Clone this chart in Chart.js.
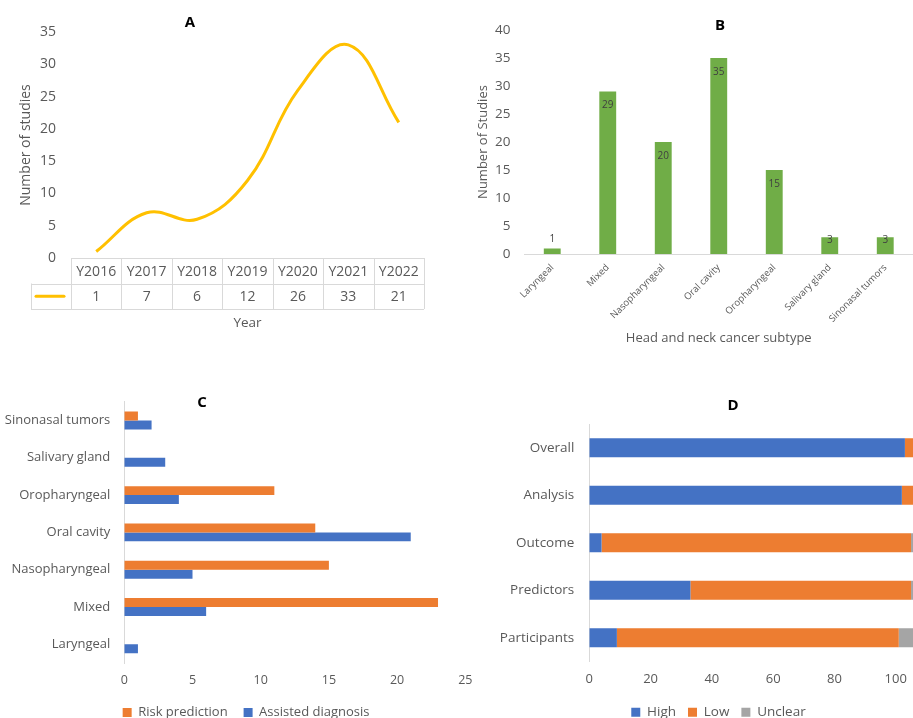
<!DOCTYPE html>
<html>
<head>
<meta charset="utf-8">
<script src="https://cdn.jsdelivr.net/npm/chart.js@4.4.0/dist/chart.umd.min.js"></script>
<style>
  html, body { margin: 0; padding: 0; background: #fff; }
  body { width: 913px; height: 718px; overflow: hidden; position: relative; }
  canvas { position: absolute; }
  .letter { position: absolute; font: bold 15px "Open Sans", sans-serif; color: #000; transform: translate(-50%, -50%); }
</style>
</head>
<body>
<canvas id="chartA" width="440" height="345" style="left:0;top:0"></canvas>
<canvas id="chartB" width="443" height="350" style="left:470px;top:0"></canvas>
<canvas id="chartC" width="492" height="349" style="left:0;top:380px"></canvas>
<canvas id="chartD" width="477" height="349" style="left:480px;top:380px"></canvas>
<div class="letter" style="left:190px;top:21px">A</div>
<div class="letter" style="left:720px;top:24px">B</div>
<div class="letter" style="left:202px;top:401px">C</div>
<div class="letter" style="left:733px;top:404px">D</div>
<script>
// A: studies published per year
const years = ['Y2016', 'Y2017', 'Y2018', 'Y2019', 'Y2020', 'Y2021', 'Y2022'];
const studiesPerYear = [1, 7, 6, 12, 26, 33, 21];

// B: studies per head and neck cancer subtype
const subtypes = ['Laryngeal', 'Mixed', 'Nasopharyngeal', 'Oral cavity', 'Oropharyngeal', 'Salivary gland', 'Sinonasal tumors'];
const studiesPerSubtype = [1, 29, 20, 35, 15, 3, 3];

// C: purpose of the model per subtype
const riskPrediction = [0, 23, 15, 14, 11, 0, 1];
const assistedDiagnosis = [1, 6, 5, 21, 4, 3, 2];

// D: risk of bias by domain
const domains = ['Overall', 'Analysis', 'Outcome', 'Predictors', 'Participants'];
const biasHigh = [103, 102, 4, 33, 9];
const biasLow = [3, 4, 101, 72, 92];
const biasUnclear = [0, 0, 1, 1, 5];

Chart.defaults.font.family = '"Open Sans", sans-serif';
Chart.defaults.color = '#595959';
Chart.defaults.animation = false;
Chart.defaults.responsive = false;
Chart.defaults.plugins.tooltip.enabled = false;

const TEXT = '#595959';
const RULE = '#D9D9D9';
const fixWidth = w => scale => { scale.width = w; };
const fixHeight = h => scale => { scale.height = h; };
const noGrid = { display: false, drawTicks: false };

// Data table under the line chart: year header row plus a value row with a series key
const dataTable = {
  id: 'dataTable',
  afterDraw(chart) {
    const { ctx, chartArea: a, scales: { x } } = chart;
    const ds = chart.data.datasets[0];
    const labels = chart.data.labels;
    const n = labels.length;
    const col = (a.right - a.left) / n;
    const row = 25.5;
    const top = a.bottom;
    const keyLeft = 31;
    ctx.save();
    ctx.strokeStyle = RULE;
    ctx.lineWidth = 1;
    ctx.beginPath();
    ctx.moveTo(a.left, top + 0.5); ctx.lineTo(a.right, top + 0.5);
    ctx.moveTo(keyLeft, Math.round(top + row) + 0.5); ctx.lineTo(a.right, Math.round(top + row) + 0.5);
    ctx.moveTo(keyLeft, Math.round(top + 2 * row) + 0.5); ctx.lineTo(a.right, Math.round(top + 2 * row) + 0.5);
    for (let i = 0; i <= n; i++) {
      const vx = Math.round(a.left + i * col) + 0.5;
      ctx.moveTo(vx, top); ctx.lineTo(vx, top + 2 * row);
    }
    ctx.moveTo(keyLeft + 0.5, top + row); ctx.lineTo(keyLeft + 0.5, top + 2 * row);
    ctx.stroke();

    ctx.strokeStyle = ds.borderColor;
    ctx.lineWidth = 3;
    ctx.lineCap = 'round';
    ctx.beginPath();
    ctx.moveTo(keyLeft + 5, top + 1.5 * row);
    ctx.lineTo(a.left - 7, top + 1.5 * row);
    ctx.stroke();

    ctx.fillStyle = TEXT;
    ctx.font = '14px "Open Sans", sans-serif';
    ctx.textAlign = 'center';
    ctx.textBaseline = 'middle';
    labels.forEach((lab, i) => {
      const cx = x.getPixelForValue(i);
      ctx.fillText(lab, cx, top + row / 2 + 1);
      ctx.fillText(String(ds.data[i]), cx, top + 1.5 * row + 1);
    });
    ctx.restore();
  }
};

// Value labels near the top of each column
const columnValues = {
  id: 'columnValues',
  afterDatasetsDraw(chart) {
    const { ctx } = chart;
    const values = chart.data.datasets[0].data;
    ctx.save();
    ctx.font = '10px "Open Sans", sans-serif';
    ctx.fillStyle = '#404040';
    ctx.textAlign = 'center';
    ctx.textBaseline = 'middle';
    chart.getDatasetMeta(0).data.forEach((bar, i) => {
      const h = bar.base - bar.y;
      const y = h >= 28 ? bar.y + 14 : (h >= 10 ? bar.y + 3 : bar.y - 9);
      ctx.fillText(String(values[i]), bar.x, y);
    });
    ctx.restore();
  }
};

// Nudge the legend sideways so it centres under the whole panel rather than the plot
const legendShift = {
  id: 'legendShift',
  afterLayout(chart, args, opts) {
    const lg = chart.legend;
    if (lg && opts.dx) { lg.left += opts.dx; lg.right += opts.dx; }
  }
};

// A
new Chart(document.getElementById('chartA'), {
  type: 'line',
  data: {
    labels: years,
    datasets: [{ data: studiesPerYear, borderColor: '#FFC000', borderWidth: 3, tension: 0.4, pointRadius: 0, fill: false }]
  },
  options: {
    layout: { padding: { top: 32, right: 16, left: 0, bottom: 0 } },
    plugins: { legend: { display: false } },
    scales: {
      x: {
        offset: true, grid: noGrid, border: { display: false }, ticks: { display: false },
        title: { display: true, text: 'Year', font: { size: 13.5 }, padding: { top: 0, bottom: 14 } },
        afterFit: fixHeight(87)
      },
      y: {
        min: 0, max: 35, grid: noGrid, border: { display: false },
        ticks: { stepSize: 5, padding: 15, font: { size: 14 } },
        title: { display: true, text: 'Number of studies', font: { size: 14 }, padding: { top: 18, bottom: 0 } },
        afterFit: fixWidth(71)
      }
    }
  },
  plugins: [dataTable]
});

// B
new Chart(document.getElementById('chartB'), {
  type: 'bar',
  data: {
    labels: subtypes,
    datasets: [{ data: studiesPerSubtype, backgroundColor: '#70AD47', categoryPercentage: 0.8, barPercentage: 0.38 }]
  },
  options: {
    layout: { padding: { top: 30, right: 0, left: 0, bottom: 0 } },
    plugins: { legend: { display: false } },
    scales: {
      x: {
        grid: noGrid, border: { display: true, color: RULE },
        ticks: { minRotation: 45, maxRotation: 45, autoSkip: false, padding: 8, font: { size: 9.5 } },
        title: { display: true, text: 'Head and neck cancer subtype', font: { size: 13 }, padding: { top: 0, bottom: 4 } },
        afterFit: fixHeight(96)
      },
      y: {
        min: 0, max: 40, grid: noGrid, border: { display: false },
        ticks: { stepSize: 5, padding: 14, font: { size: 13.5 } },
        title: { display: true, text: 'Number of Studies', font: { size: 13 }, padding: { top: 5, bottom: 0 } },
        afterFit: fixWidth(54.5)
      }
    }
  },
  plugins: [columnValues]
});

// C
new Chart(document.getElementById('chartC'), {
  type: 'bar',
  data: {
    labels: subtypes,
    datasets: [
      { label: 'Risk prediction', data: riskPrediction, backgroundColor: '#ED7D31' },
      { label: 'Assisted diagnosis', data: assistedDiagnosis, backgroundColor: '#4472C4' }
    ]
  },
  options: {
    indexAxis: 'y',
    datasets: { bar: { categoryPercentage: 0.48, barPercentage: 1 } },
    layout: { padding: { top: 21, right: 26.7, left: 0, bottom: 0 } },
    plugins: {
      legend: { position: 'bottom', labels: { boxWidth: 9, boxHeight: 9, padding: 16, font: { size: 13 } } },
      legendShift: { dx: 13.4 }
    },
    scales: {
      x: {
        min: 0, max: 25, grid: noGrid, border: { display: false },
        ticks: { stepSize: 5, padding: 10, font: { size: 12.5 } },
        afterFit: fixHeight(27)
      },
      y: {
        reverse: true, grid: noGrid, border: { display: true, color: RULE },
        ticks: { padding: 14, font: { size: 13 } },
        afterFit: fixWidth(124.3)
      }
    }
  },
  plugins: [legendShift]
});

// D
new Chart(document.getElementById('chartD'), {
  type: 'bar',
  data: {
    labels: domains,
    datasets: [
      { label: 'High', data: biasHigh, backgroundColor: '#4472C4' },
      { label: 'Low', data: biasLow, backgroundColor: '#ED7D31' },
      { label: 'Unclear', data: biasUnclear, backgroundColor: '#A5A5A5' }
    ]
  },
  options: {
    indexAxis: 'y',
    datasets: { bar: { categoryPercentage: 0.4, barPercentage: 1 } },
    layout: { padding: { top: 44, right: 0, left: 0, bottom: 0 } },
    plugins: {
      legend: { position: 'bottom', labels: { boxWidth: 9, boxHeight: 9, padding: 12, font: { size: 13.5 } } }
    },
    scales: {
      x: {
        stacked: true, min: 0, max: 120, grid: noGrid, border: { display: false },
        ticks: { stepSize: 20, padding: 10, font: { size: 13 } },
        // let the plot run to the canvas edge; the last tick label sits past it
        afterFit: scale => { scale.height = 32; scale.paddingRight = 0; }
      },
      y: {
        stacked: true, grid: noGrid, border: { display: true, color: RULE },
        ticks: { padding: 15, font: { size: 13.5 } },
        afterFit: fixWidth(109.3)
      }
    }
  }
});
</script>
</body>
</html>
